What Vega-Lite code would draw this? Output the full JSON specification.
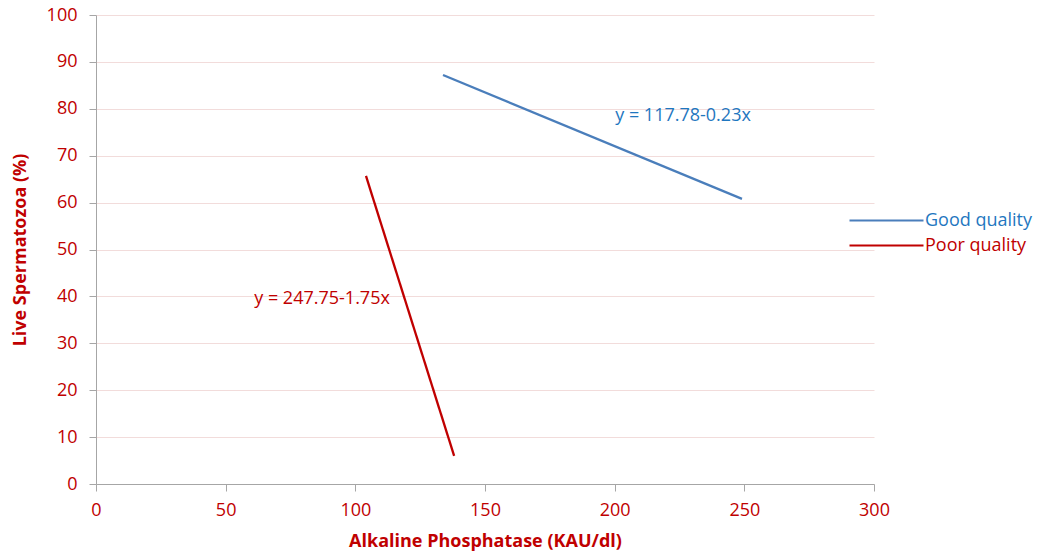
{
  "$schema": "https://vega.github.io/schema/vega-lite/v6.json",
  "width": 778,
  "height": 469,
  "autosize": {"type": "none"},
  "padding": {"left": 96, "top": 15, "right": 169, "bottom": 72},
  "background": "white",
  "config": {
    "view": {"stroke": null},
    "font": "Open Sans",
    "axis": {
      "labelFont": "Open Sans",
      "titleFont": "Open Sans",
      "labelColor": "#C00000",
      "titleColor": "#C00000",
      "labelFontSize": 18,
      "titleFontSize": 18,
      "titleFontWeight": "bold",
      "domainColor": "#A6A6A6",
      "tickColor": "#A6A6A6",
      "tickSize": 7,
      "gridColor": "#F2DCDB",
      "gridWidth": 1,
      "labelFlush": false
    }
  },
  "datasets": {
    "lines": [
      {"series": "Good quality", "x": 133.8, "y": 87.2},
      {"series": "Good quality", "x": 249.1, "y": 60.8},
      {"series": "Poor quality", "x": 104.1, "y": 65.7},
      {"series": "Poor quality", "x": 138.1, "y": 6.0}
    ],
    "labels": [
      {"series": "Good quality", "x": 200.2, "y": 78.5, "text": "y = 117.78-0.23x"},
      {"series": "Poor quality", "x": 61, "y": 39.4, "text": "y = 247.75-1.75x"}
    ]
  },
  "layer": [
    {
      "data": {"name": "lines"},
      "mark": {"type": "line", "strokeWidth": 2.3},
      "encoding": {
        "x": {
          "field": "x", "type": "quantitative",
          "scale": {"domain": [0, 300], "nice": false},
          "axis": {"values": [0, 50, 100, 150, 200, 250, 300], "grid": false, "title": "Alkaline Phosphatase (KAU/dl)", "labelPadding": 10, "titlePadding": 13}
        },
        "y": {
          "field": "y", "type": "quantitative",
          "scale": {"domain": [0, 100], "nice": false},
          "axis": {"values": [0, 10, 20, 30, 40, 50, 60, 70, 80, 90, 100], "grid": true, "title": "Live Spermatozoa  (%)", "labelPadding": 12, "titlePadding": 17}
        },
        "color": {
          "field": "series", "type": "nominal",
          "scale": {"domain": ["Good quality", "Poor quality"], "range": ["#4A7EBB", "#C00000"]},
          "legend": {
            "title": null,
            "orient": "none",
            "legendX": 752,
            "legendY": 193,
            "padding": 0,
            "symbolType": "stroke",
            "symbolSize": 5476,
            "symbolStrokeWidth": 2.2,
            "labelFont": "Open Sans",
            "labelFontSize": 18,
            "labelOffset": 0,
            "clipHeight": 25,
            "rowPadding": 0,
            "encode": {
              "labels": {"update": {"fill": {"signal": "datum.value === 'Good quality' ? '#1F77C0' : '#C00000'"}}},
              "symbols": {"update": {"stroke": {"signal": "datum.value === 'Good quality' ? '#1F77C0' : '#C00000'"}}}
            }
          }
        },
        "detail": {"field": "series"}
      }
    },
    {
      "data": {"name": "labels"},
      "mark": {"type": "text", "align": "left", "baseline": "middle", "fontSize": 18, "font": "Open Sans"},
      "encoding": {
        "x": {"field": "x", "type": "quantitative"},
        "y": {"field": "y", "type": "quantitative"},
        "text": {"field": "text"},
        "color": {"field": "series", "type": "nominal", "scale": {"domain": ["Good quality", "Poor quality"], "range": ["#1F77C0", "#C00000"]}, "legend": null}
      }
    }
  ],
  "resolve": {"scale": {"color": "independent"}}
}
